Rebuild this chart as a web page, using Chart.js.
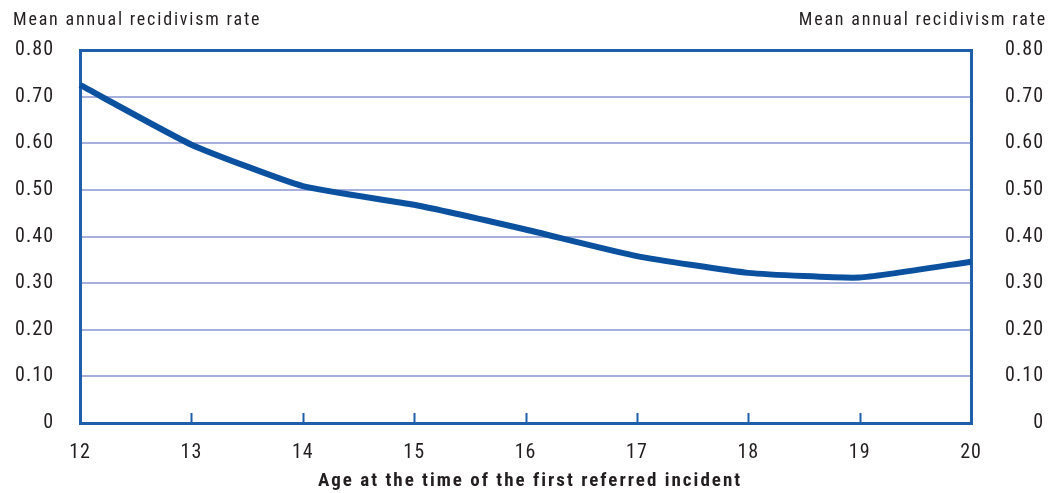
<!DOCTYPE html>
<html lang="en">
<head>
    <meta charset="UTF-8">
    <title>Mean annual recidivism rate by age</title>
    <script src="https://cdn.jsdelivr.net/npm/chart.js"></script>
    <style>
        html, body { margin: 0; padding: 0; background: #fff; }
        .wrap { width: 1058px; height: 493px; }
    </style>
</head>
<body>
<div class="wrap">
    <canvas id="recidivismChart" width="1058" height="493"></canvas>
</div>

<script>
    // data
    const ages = ['12', '13', '14', '15', '16', '17', '18', '19', '20'];
    const recidivismRate = [0.725, 0.597, 0.508, 0.468, 0.415, 0.358, 0.322, 0.312, 0.346];
    const yTicks = [0, 0.1, 0.2, 0.3, 0.4, 0.5, 0.6, 0.7, 0.8];
    const yAxisTitle = 'Mean annual recidivism rate';
    const xAxisTitle = 'Age at the time of the first referred incident';

    const fontFamily = '"Liberation Sans Narrow", "Roboto Condensed", "DejaVu Sans Condensed", sans-serif';
    const frameBlue = '#1f5ea8';
    const gridBlue = '#a7afdc';
    const textColor = '#231f20';

    const fmtTick = v => v === 0 ? '0' : v.toFixed(2);

    // letter spacing for tick labels, titles above each y axis,
    // x title and small ticks pointing up from the x axis
    const extras = {
        id: 'extras',
        beforeDraw(chart) {
            chart.ctx.letterSpacing = '1px';
        },
        afterDraw(chart) {
            const ctx = chart.ctx;
            const area = chart.chartArea;
            const x = chart.scales.x;
            ctx.save();
            ctx.strokeStyle = frameBlue;
            ctx.lineWidth = 2;
            for (let i = 1; i < ages.length - 1; i++) {
                const px = Math.round(x.getPixelForTick(i)) + 0.5;
                ctx.beginPath();
                ctx.moveTo(px, area.bottom);
                ctx.lineTo(px, area.bottom - 10);
                ctx.stroke();
            }
            ctx.fillStyle = textColor;
            ctx.letterSpacing = '1.8px';
            ctx.font = '18px ' + fontFamily;
            ctx.textBaseline = 'middle';
            ctx.textAlign = 'left';
            ctx.fillText(yAxisTitle, 13, 20);
            ctx.textAlign = 'right';
            ctx.fillText(yAxisTitle, 1047, 20);

            ctx.letterSpacing = '2px';
            ctx.font = 'bold 19px ' + fontFamily;
            ctx.textAlign = 'center';
            ctx.fillText(xAxisTitle, 530, 481);
            ctx.restore();
        }
    };

    const yScale = (pos) => ({
        position: pos,
        min: 0,
        max: 0.8,
        afterBuildTicks: s => { s.ticks = yTicks.map(v => ({ value: v })); },
        afterFit: s => { s.width = pos === 'left' ? 80 : 73; },
        border: { display: true, color: frameBlue, width: 3 },
        grid: {
            drawTicks: false,
            color: c => c.tick && (c.tick.value === 0.8 || c.tick.value === 0) ? frameBlue : gridBlue,
            lineWidth: c => c.tick && (c.tick.value === 0.8 || c.tick.value === 0) ? 3 : 2,
            drawOnChartArea: pos === 'left'
        },
        ticks: {
            padding: pos === 'left' ? 26 : 18,
            crossAlign: pos === 'left' ? 'near' : 'far',
            color: textColor,
            font: { family: fontFamily, size: 20 },
            callback: v => fmtTick(v)
        }
    });

    new Chart(document.getElementById('recidivismChart'), {
        type: 'line',
        data: {
            labels: ages,
            datasets: [{
                data: recidivismRate,
                borderColor: '#0b519f',
                borderWidth: 6,
                pointRadius: 0,
                tension: 0.15,
                borderJoinStyle: 'round',
                borderCapStyle: 'butt'
            }]
        },
        options: {
            responsive: false,
            animation: false,
            layout: { padding: { top: 50, right: 14, left: 0, bottom: 0 } },
            plugins: { legend: { display: false }, tooltip: { enabled: false } },
            scales: {
                x: {
                    offset: false,
                    afterFit: s => { s.height = 70; },
                    border: { display: true, color: frameBlue, width: 3 },
                    grid: { display: false },
                    ticks: {
                        padding: 10,
                        maxRotation: 0,
                        color: textColor,
                        font: { family: fontFamily, size: 20 }
                    }
                },
                y: yScale('left'),
                y2: yScale('right')
            }
        },
        plugins: [extras]
    });
</script>
</body>
</html>
